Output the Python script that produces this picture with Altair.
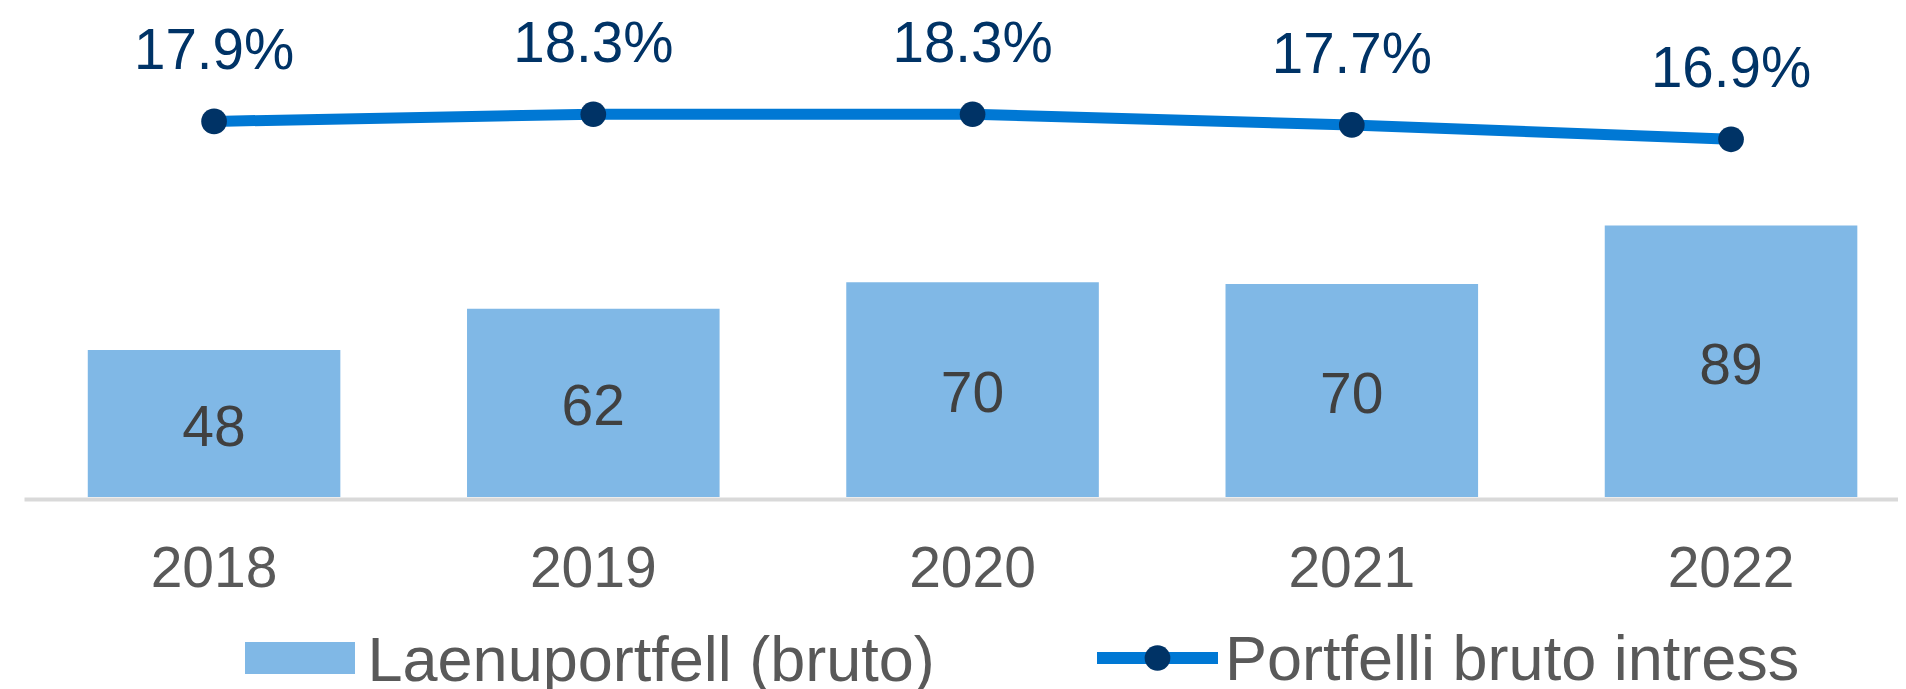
import altair as alt
import pandas as pd

years = ["2018", "2019", "2020", "2021", "2022"]
portfolio = [48.2, 61.7, 70.4, 69.8, 89.0]
interest = [17.9, 18.3, 18.3, 17.7, 16.9]
bar_series = "Laenuportfell (bruto)"
line_series = "Portfelli bruto intress"
marker_series = "marker"

FONT = "Liberation Sans"
BAR_COLOR = "#80B8E6"
LINE_COLOR = "#0078D4"
NAVY = "#003366"

df = pd.DataFrame({
    "year": years,
    "portfolio": portfolio,
    "interest": interest,
    "bar_s": bar_series,
    "line_s": line_series,
    "pt_s": marker_series,
})

x_enc = alt.X(
    "year:N",
    sort=years,
    scale=alt.Scale(paddingInner=0.334, paddingOuter=0.1377, align=0.6106),
    axis=alt.Axis(
        title=None, labelAngle=0, ticks=False, tickSize=0, grid=False,
        domainColor="#D9D9D9", domainWidth=4, offset=2,
        labelFont=FONT, labelFontSize=57, labelColor="#595959",
        labelBaseline="alphabetic", labelPadding=87,
    ),
)

bar_y = alt.Scale(domain=[0, 160.3], nice=False, zero=True)
pct_y = alt.Scale(domain=[-3.085, 24.235], nice=False, zero=False)

base = alt.Chart(df)

bars = base.mark_bar().encode(
    x=x_enc,
    y=alt.Y("portfolio:Q", scale=bar_y, axis=None),
    fill=alt.Fill(
        "bar_s:N",
        scale=alt.Scale(domain=[bar_series], range=[BAR_COLOR]),
        legend=alt.Legend(
            title=None, orient="none", legendX=221, legendY=599.4, padding=0,
            symbolType="M-1,-0.371L1,-0.371L1,0.211L-1,0.211Z",
            symbolSize=12100, symbolStrokeWidth=0,
            labelFont=FONT, labelFontSize=63, labelColor="#595959",
            labelOffset=12.5, labelLimit=1000,
        ),
    ),
)

bar_labels = base.mark_text(
    font=FONT, fontSize=57, color="#404040", baseline="alphabetic", dy=22.5
).transform_calculate(half="datum.portfolio / 2").encode(
    x=x_enc,
    y=alt.Y("half:Q", scale=bar_y, axis=None),
    text=alt.Text("portfolio:Q", format=".0f"),
)

line = base.mark_line(strokeWidth=11).encode(
    x=x_enc,
    y=alt.Y("interest:Q", scale=pct_y, axis=None),
    stroke=alt.Stroke(
        "line_s:N",
        scale=alt.Scale(domain=[line_series], range=[LINE_COLOR]),
        legend=alt.Legend(
            title=None, orient="none", legendX=1067, legendY=586.9, padding=0,
            symbolType="M-1,-0.056L1,-0.056",
            symbolSize=14641, symbolStrokeWidth=12,
            labelFont=FONT, labelFontSize=63, labelColor="#595959",
            labelOffset=1, labelLimit=1000,
        ),
    ),
)

points = base.mark_point(filled=True, size=660, color=NAVY, opacity=1).encode(
    x=x_enc,
    y=alt.Y("interest:Q", scale=pct_y, axis=None),
    shape=alt.Shape(
        "pt_s:N",
        scale=alt.Scale(domain=[marker_series], range=["circle"]),
        legend=alt.Legend(
            title=None, orient="none", legendX=1120.5, legendY=637, padding=0,
            symbolSize=660, symbolStrokeWidth=0, symbolFillColor=NAVY,
            labelExpr="''", labelFontSize=10,
        ),
    ),
)

pct_labels = base.mark_text(
    font=FONT, fontSize=56.5, color=NAVY, baseline="alphabetic", dy=-52
).transform_calculate(lbl="format(datum.interest, '.1f') + '%'").encode(
    x=x_enc,
    y=alt.Y("interest:Q", scale=pct_y, axis=None),
    text="lbl:N",
)

chart = alt.layer(bars, bar_labels, line, points, pct_labels).resolve_scale(
    y="independent"
).properties(
    width=1874,
    height=489,
    padding={"left": 16, "top": 0, "right": 0, "bottom": 203},
    autosize=alt.AutoSizeParams(type="none"),
).configure_view(stroke=None)

chart.save("out.html", embed_options={"renderer": "svg", "actions": False})
